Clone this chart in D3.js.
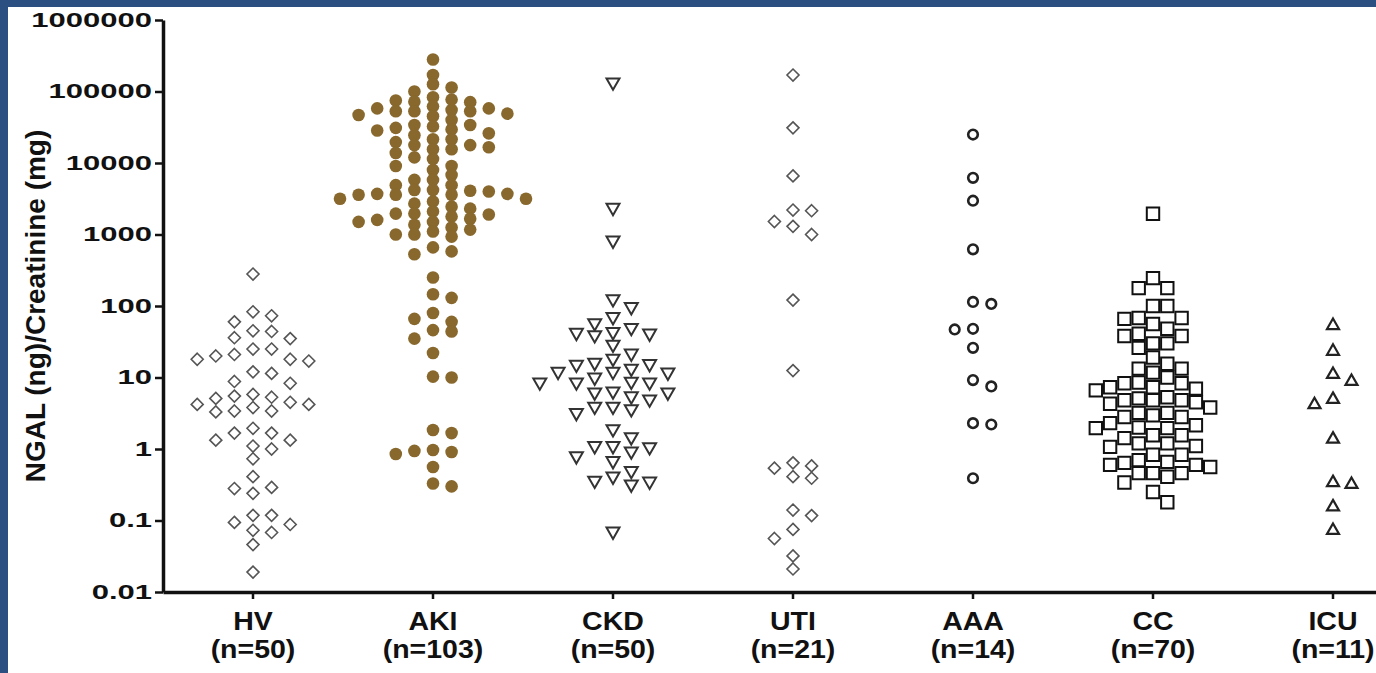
<!DOCTYPE html>
<html>
<head>
<meta charset="utf-8">
<script src="https://cdn.jsdelivr.net/npm/d3@7"></script>
<style>
  html, body { margin: 0; padding: 0; background: #fff; }
  svg { display: block; font-family: "Liberation Sans", Arial, sans-serif; font-weight: bold; }
</style>
</head>
<body>
<svg id="chart" width="1376" height="673"></svg>
<script>
// groups and sample sizes shown under the x axis
var groups = ["HV", "AKI", "CKD", "UTI", "AAA", "CC", "ICU"];
var groupN = ["(n=50)", "(n=103)", "(n=50)", "(n=21)", "(n=14)", "(n=70)", "(n=11)"];
var yTicks = [0.01, 0.1, 1, 10, 100, 1000, 10000, 100000, 1000000];
var yTitle = "NGAL (ng)/Creatinine (mg)";

// NGAL / creatinine values, one list per group
var hvValues = [280, 73, 83, 60, 44, 36, 35, 45, 25, 25, 21, 18, 17, 18, 20, 12, 11.4, 8.8, 8.3, 5.8,
  5.5, 5.3, 4.5, 4.2, 3.4, 3.3, 3.4, 3.8, 4.2, 5.1, 1.95, 1.67, 1.1, 1.33, 1.67, 1.0, 1.33, 0.73, 0.41, 0.29,
  0.24, 0.28, 0.118, 0.118, 0.088, 0.094, 0.073, 0.068, 0.046, 0.019];
var akiValues = [280000, 170000, 114000, 126000, 100000,
  58000, 53000, 72000, 53000, 83000, 62000, 47000, 75000, 71000, 77000, 49000, 53000, 55000, 58000,
  34000, 32500, 29500, 26000, 40000, 24500, 28500, 31000, 34000,
  19600, 16600, 15600, 13800, 21500, 15600, 17800, 11400, 17800, 21500,
  9100, 12000, 9100, 5800, 4900, 6800, 4900, 5800,
  4200, 3160, 4000, 2900, 3700, 3600, 3600, 3600, 3700, 4100, 4200, 3160,
  2300, 1960, 1900, 1780, 1960, 2100, 2450, 1500, 1600, 1500,
  1170, 1000, 1000, 1100, 1370, 935, 1660, 660, 580,
  530, 250, 146, 130, 80, 66, 60, 46, 44, 35, 22, 10.3, 10,
  1.67, 1.84, 0.94, 0.85, 0.91, 0.97, 0.56, 0.30, 0.33,
  45000, 8000, 2700, 1250];
var ckdValues = [130000, 2300, 800, 121, 94, 68, 56, 38, 48, 40, 41, 42, 28, 21, 15.6, 15, 11.7, 11.4, 11.7,
  12.9, 14.7, 17.8, 9.7, 8.5, 8.3, 6.0, 6.0, 6.2, 8.3, 8.3, 5.3, 4.8, 3.8, 3.1, 3.5, 3.8, 1.84, 1.42,
  1.07, 1.03, 1.07, 0.9, 0.77, 0.66, 0.48, 0.40, 0.34, 0.31, 0.35, 0.068];
var utiValues = [170000, 31000, 6600, 2200, 1520, 2150, 1000, 1300, 121, 12.5, 0.58, 0.41, 0.39, 0.54,
  0.64, 0.14, 0.117, 0.075, 0.056, 0.032, 0.021];
var aaaValues = [25000, 6200, 2970, 620, 107, 114, 47, 48, 26, 9.2, 7.5, 2.3, 2.2, 0.39];
var ccValues = [1950, 245, 178, 178, 100, 100, 68, 66, 48, 56,
  68, 38, 41, 30, 38, 30, 26, 19, 15.6, 13.3,
  13.3, 11.7, 10, 8.3, 7.3, 8.5, 8.3, 7.0, 7.3, 4.8,
  3.8, 4.8, 5.3, 6.6, 4.5, 4.3, 4.8, 5.1, 3.2, 3.2,
  2.95, 2.8, 2.8, 2.3, 2.0, 1.96, 1.96, 2.15, 1.56, 1.56,
  1.42, 1.2, 1.1, 1.07, 1.2, 0.83, 0.66, 0.6, 0.56, 0.64,
  0.6, 0.70, 0.83, 0.46, 0.46, 0.41, 0.46, 0.34, 0.25, 0.18];
var icuValues = [55, 24, 11.4, 9.1, 4.3, 5.1, 1.42, 0.33, 0.35, 0.16, 0.075];

var groupValues = [hvValues, akiValues, ckdValues, utiValues, aaaValues, ccValues, icuValues];

// marker shapes, size = half width
var shapes = {
  diamond: { draw: function (c, r) { c.moveTo(0, -r); c.lineTo(r, 0); c.lineTo(0, r); c.lineTo(-r, 0); c.closePath(); } },
  circle: { draw: function (c, r) { c.moveTo(r, 0); c.arc(0, 0, r, 0, 2 * Math.PI); } },
  square: { draw: function (c, r) { c.rect(-r, -r, 2 * r, 2 * r); } },
  triUp: { draw: function (c, r) { c.moveTo(0, -r); c.lineTo(r, r * 0.75); c.lineTo(-r, r * 0.75); c.closePath(); } },
  triDown: { draw: function (c, r) { c.moveTo(0, r); c.lineTo(r, -r * 0.75); c.lineTo(-r, -r * 0.75); c.closePath(); } }
};

var markerStyle = {
  HV:  { shape: "diamond", r: 6, fill: "#fff", stroke: "#555", sw: 1.6, step: 18.6, gap: 12 },
  AKI: { shape: "circle", r: 6.3, fill: "#88682c", stroke: "none", sw: 0, step: 18.6, gap: 9 },
  CKD: { shape: "triDown", r: 6.5, fill: "#fff", stroke: "#333", sw: 2, step: 18.3, gap: 12 },
  UTI: { shape: "diamond", r: 6, fill: "#fff", stroke: "#555", sw: 1.6, step: 18.6, gap: 12 },
  AAA: { shape: "circle", r: 4.8, fill: "#fff", stroke: "#222", sw: 2.6, step: 18.3, gap: 12 },
  CC:  { shape: "square", r: 6.2, fill: "#fff", stroke: "#111", sw: 2, step: 14.3, gap: 13 },
  ICU: { shape: "triUp", r: 6, fill: "#fff", stroke: "#222", sw: 2.2, step: 18.5, gap: 12 }
};

var width = 1376, height = 673;
var svg = d3.select("#chart");

// blue frame of the slide
svg.append("rect").attr("x", 0).attr("y", 0).attr("width", width).attr("height", 7).attr("fill", "#2b4f80");
svg.append("rect").attr("x", 0).attr("y", 0).attr("width", 8).attr("height", height).attr("fill", "#2b4f80");

var plotLeft = 163, plotTop = 20, plotBottom = 592;

var y = d3.scaleLog().domain([0.01, 1000000]).range([plotBottom, plotTop]);
var x = d3.scaleBand().domain(groups).range([plotLeft, plotLeft + 180 * groups.length]);

// column scatter: each point goes to the nearest free column slot,
// ties go to the side that is emptier around that height
function swarm(values, st) {
  var pts = values.map(function (v) { return { v: v, y: y(v) }; })
    .sort(function (a, b) { return a.y - b.y; });
  var placed = [];
  pts.forEach(function (p) {
    var near = placed.filter(function (q) { return Math.abs(q.y - p.y) < st.gap * 2.5; });
    var bal = d3.sum(near, function (q) { return Math.sign(q.col); });
    var chosen = null;
    for (var k = 0; chosen === null && k < 30; k++) {
      var cands = k === 0 ? [0] : (bal > 0 ? [-k, k] : [k, -k]);
      for (var i = 0; i < cands.length; i++) {
        var col = cands[i];
        var free = near.every(function (q) {
          return q.col !== col || Math.abs(q.y - p.y) >= st.gap;
        });
        if (free) { chosen = col; break; }
      }
    }
    p.col = chosen;
    p.dx = chosen * st.step;
    placed.push(p);
  });
  return placed;
}

// the figure's face is wider than Liberation Sans: stretch it sideways
function widen(sel, f) {
  sel.each(function () {
    var t = d3.select(this);
    var x0 = +t.attr("x") || 0;
    t.attr("x", x0 / f).attr("transform", "scale(" + f + ",1)");
  });
}

// axes
var yAxis = svg.append("g")
  .attr("transform", "translate(" + plotLeft + ",0)")
  .call(d3.axisLeft(y).tickValues(yTicks).tickFormat(String).tickSize(8).tickSizeOuter(0).tickPadding(3));
yAxis.select(".domain").attr("stroke", "#111").attr("stroke-width", 3.5);
yAxis.selectAll(".tick line").attr("stroke", "#111").attr("stroke-width", 2.5);
yAxis.selectAll(".tick text").attr("fill", "#111")
  .style("font-size", "20px").style("font-weight", "bold")
  .style("font-family", "'Liberation Sans', Arial, sans-serif");
widen(yAxis.selectAll(".tick text"), 1.55);

var xAxis = svg.append("g")
  .attr("transform", "translate(0," + plotBottom + ")")
  .call(d3.axisBottom(x).tickSize(7).tickSizeOuter(0).tickFormat(""));
xAxis.select(".domain").attr("stroke", "#111").attr("stroke-width", 3.5);
xAxis.selectAll(".tick line").attr("stroke", "#111").attr("stroke-width", 2.5);

var catLabels = svg.append("g").selectAll("g")
  .data(groups)
  .enter().append("g");
catLabels.append("text")
  .attr("text-anchor", "middle")
  .attr("fill", "#111")
  .style("font-size", "25px")
  .attr("x", function (d) { return x(d) + x.bandwidth() / 2; })
  .attr("y", 630)
  .text(function (d) { return d; });
catLabels.append("text")
  .attr("text-anchor", "middle")
  .attr("fill", "#111")
  .style("font-size", "25px")
  .attr("x", function (d) { return x(d) + x.bandwidth() / 2; })
  .attr("y", 658)
  .text(function (d, i) { return groupN[i]; });
widen(catLabels.selectAll("text"), 1.14);

svg.append("text")
  .attr("transform", "translate(45," + ((plotTop + plotBottom) / 2) + ") rotate(-90)")
  .attr("text-anchor", "middle")
  .attr("fill", "#111")
  .style("font-size", "28px")
  .text(yTitle);

// points
groups.forEach(function (g, gi) {
  var st = markerStyle[g];
  var cx = x(g) + x.bandwidth() / 2;
  var sym = d3.symbol().type(shapes[st.shape]).size(st.r);
  svg.append("g").attr("class", "grp-" + g)
    .selectAll("path")
    .data(swarm(groupValues[gi], st))
    .enter().append("path")
    .attr("transform", function (d) { return "translate(" + (cx + d.dx) + "," + d.y + ")"; })
    .attr("d", sym)
    .attr("fill", st.fill)
    .attr("stroke", st.stroke)
    .attr("stroke-width", st.sw);
});
</script>
</body>
</html>
